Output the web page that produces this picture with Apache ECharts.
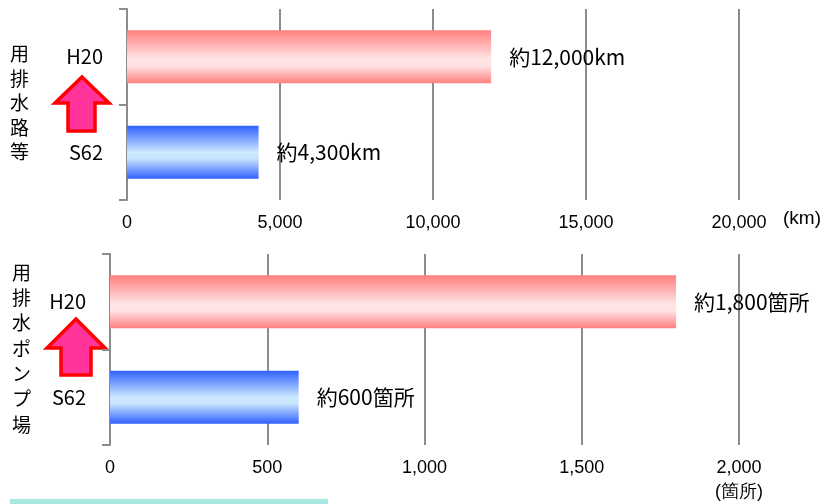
<!DOCTYPE html>
<html>
<head>
<meta charset="utf-8">
<script src="https://cdn.jsdelivr.net/npm/echarts@6/dist/echarts.min.js"></script>
<style>
	html, body { margin: 0; padding: 0; background: #fff; }
	#chart { width: 827px; height: 504px; }
</style>
</head>
<body>
<div id="chart"></div>
<script>
// data
var categories = ['S62', 'H20'];
var lengthKm = [4300, 11900];
var lengthLabels = ['約4,300km', '約12,000km'];
var pumpCount = [600, 1800];
var pumpLabels = ['約600箇所', '約1,800箇所'];
var kmAxis = { min: 0, max: 20000, interval: 5000 };
var pumpAxis = { min: 0, max: 2000, interval: 500 };

var barColors = [
	new echarts.graphic.LinearGradient(0, 0, 0, 1, [
		{ offset: 0, color: '#3060ff' },
		{ offset: 0.5, color: '#cde9ff' },
		{ offset: 0.62, color: '#c8e4ff' },
		{ offset: 1, color: '#3060ff' }
	]),
	new echarts.graphic.LinearGradient(0, 0, 0, 1, [
		{ offset: 0, color: '#ff7f7f' },
		{ offset: 0.55, color: '#ffe6e6' },
		{ offset: 0.68, color: '#ffe0e0' },
		{ offset: 1, color: '#ff7f7f' }
	])
];

var fmt = function(v) { return v.toLocaleString('en-US'); };
var gray = '#8c8c8c';

function xAxisOf(idx, range, unitLine) {
	return {
		type: 'value',
		gridIndex: idx,
		min: range.min,
		max: range.max,
		interval: range.interval,
		axisLine: { show: false },
		axisTick: { show: false },
		splitLine: { lineStyle: { color: gray, width: 2 } },
		axisLabel: {
			margin: 11,
			color: '#000',
			fontFamily: 'Liberation Sans',
			fontSize: 18,
			lineHeight: 24,
			formatter: function(v) {
				return v === range.max && unitLine ? fmt(v) + '\n' + unitLine : fmt(v);
			}
		}
	};
}

function yAxisOf(idx) {
	return {
		type: 'category',
		gridIndex: idx,
		data: categories,
		axisLine: { show: true, lineStyle: { color: gray, width: 2 } },
		axisTick: { show: true, inside: false, alignWithLabel: false, interval: 0, length: 8, lineStyle: { color: gray, width: 2 } },
		axisLabel: {
			margin: 24,
			color: '#000',
			fontFamily: 'Noto Sans CJK JP',
			fontSize: 20
		}
	};
}

function barSeries(idx, values, labels) {
	return {
		type: 'bar',
		xAxisIndex: idx,
		yAxisIndex: idx,
		barWidth: 53,
		data: values.map(function(v, i) {
			return { value: v, itemStyle: { color: barColors[i] } };
		}),
		label: {
			show: true,
			position: 'right',
			distance: 18,
			color: '#000',
			fontFamily: 'Noto Sans CJK JP',
			fontSize: 21,
			formatter: function(p) { return labels[p.dataIndex]; }
		}
	};
}

function arrow(tipX, tipY, wingY, wingL, wingR, shaftL, shaftR, bottom) {
	return {
		type: 'polygon',
		shape: { points: [[tipX, tipY], [wingR, wingY], [shaftR, wingY], [shaftR, bottom],
			[shaftL, bottom], [shaftL, wingY], [wingL, wingY]] },
		style: { fill: '#ff3399', stroke: '#ff0000', lineWidth: 3.5, lineJoin: 'miter' }
	};
}

var chart = echarts.init(document.getElementById('chart'));
chart.setOption({
	animation: false,
	grid: [
		{ left: 127, right: 88, top: 9, height: 191 },
		{ left: 110, right: 88, top: 254, height: 191 }
	],
	xAxis: [xAxisOf(0, kmAxis, null), xAxisOf(1, pumpAxis, '(箇所)')],
	yAxis: [yAxisOf(0), yAxisOf(1)],
	series: [barSeries(0, lengthKm, lengthLabels), barSeries(1, pumpCount, pumpLabels)],
	graphic: [
		arrow(82, 77, 103, 55, 109, 68, 95, 131),
		arrow(76, 319, 348, 47, 105, 61, 91, 375),
		{
			type: 'text', left: 783, top: 209,
			style: { text: '(km)', fill: '#000', fontSize: 19, fontFamily: 'Liberation Sans' }
		},
		{
			type: 'text', left: 10, top: 42,
			style: { text: '用\n排\n水\n路\n等', fill: '#000', fontSize: 19, fontFamily: 'Noto Sans CJK JP', lineHeight: 24.5 }
		},
		{
			type: 'text', left: 12, top: 260,
			style: { text: '用\n排\n水\nポ\nン\nプ\n場', fill: '#000', fontSize: 19, fontFamily: 'Noto Sans CJK JP', lineHeight: 25.3 }
		},
		{
			type: 'rect', shape: { x: 10, y: 499, width: 318, height: 6 },
			style: { fill: '#a8e8e0' }
		}
	]
});
</script>
</body>
</html>
